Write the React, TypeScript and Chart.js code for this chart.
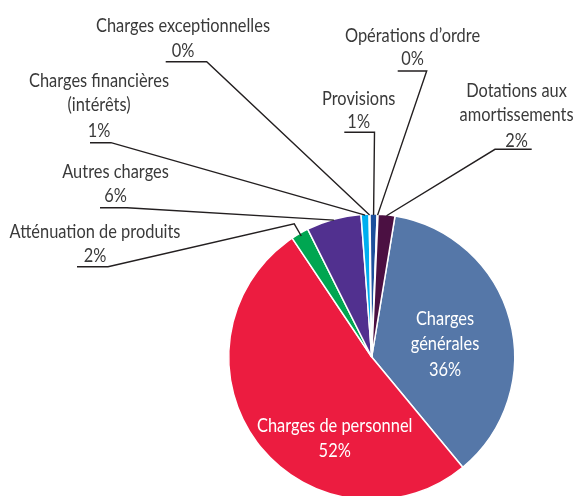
import React, { useEffect, useRef } from "react";
import { Chart, registerables } from "chart.js";

Chart.register(...registerables);

const categories = [
  "Charges\ngénérales",
  "Charges de personnel",
  "Atténuation de produits",
  "Autres charges",
  "Charges financières\n(intérêts)",
  "Charges exceptionnelles",
  "Provisions",
  "Opérations d\u2019ordre",
  "Dotations aux\namortissements",
];
const values = [36.4, 51.6, 2.0, 6.2, 0.9, 0.1, 0.8, 0.1, 1.9];
const colors = [
  "#5577a8",
  "#ec1c40",
  "#00a651",
  "#51308f",
  "#00aeef",
  "#2a2a6a",
  "#1c4f9c",
  "#3a1f4f",
  "#4b1042",
];

type Layout = {
  inside?: boolean;
  cx: number;
  baselines: number[];
  ux1?: number;
  ux2?: number;
  uy?: number;
  from?: "left" | "right";
  elbow?: number;
};

const layouts: Layout[] = [
  { inside: true, cx: 445, baselines: [325, 350, 375.5] },
  { inside: true, cx: 334.7, baselines: [431.7, 456.7] },
  { cx: 95, baselines: [238, 262], ux1: 77, ux2: 108, uy: 266.7, from: "right", elbow: 11 },
  { cx: 115.5, baselines: [177.5, 202], ux1: 100, ux2: 127, uy: 207.7, from: "right" },
  { cx: 99, baselines: [87, 110.5, 137], ux1: 90, ux2: 111, uy: 142.7, from: "right" },
  { cx: 183, baselines: [31.5, 57], ux1: 165.7, ux2: 206.7, uy: 61.7, from: "right" },
  { cx: 358.7, baselines: [105, 128], ux1: 344.3, ux2: 374.5, uy: 132.3, from: "right" },
  { cx: 412.5, baselines: [41.5, 65], ux1: 397.7, ux2: 426.7, uy: 71, from: "right" },
  { cx: 516.5, baselines: [96.5, 121, 146.5], ux1: 495, ux2: 531.7, uy: 149.3, from: "left" },
];

const FONT = '"Lato", "Open Sans", sans-serif';
const FONT_SIZE = 19.5;
const REF_TEXT = "Charges exceptionnelles";
const REF_WIDTH = 174;

const labelPlugin = {
  id: "pieLabels",
  afterDatasetsDraw(chart: any) {
    const ctx = chart.ctx as CanvasRenderingContext2D;
    const meta = chart.getDatasetMeta(0);
    const data = chart.data.datasets[0].data as number[];
    const total = data.reduce((a, b) => a + b, 0);
    ctx.save();
    ctx.font = `${FONT_SIZE}px ${FONT}`;
    ctx.textAlign = "center";
    ctx.textBaseline = "alphabetic";
    const sx = REF_WIDTH / ctx.measureText(REF_TEXT).width;
    meta.data.forEach((arc: any, i: number) => {
      const lay = layouts[i];
      if (!lay) return;
      const lines = String(chart.data.labels[i]).split("\n");
      lines.push(`${Math.round((data[i] / total) * 100)}%`);
      ctx.fillStyle = lay.inside ? "#ffffff" : "#3a3a3a";
      lines.forEach((ln, k) => {
        ctx.save();
        ctx.translate(lay.cx, lay.baselines[k]);
        ctx.scale(sx, 1);
        ctx.fillText(ln, 0, 0);
        ctx.restore();
      });
      if (lay.inside) return;
      const p = arc.getProps(["x", "y", "startAngle", "endAngle", "outerRadius"], true);
      const mid = (p.startAngle + p.endAngle) / 2;
      const r = p.outerRadius;
      ctx.strokeStyle = "#231f20";
      ctx.lineWidth = 1.4;
      ctx.beginPath();
      const s = lay.from === "left" ? lay.ux2! : lay.ux1!;
      const e = lay.from === "left" ? lay.ux1! : lay.ux2!;
      ctx.moveTo(s, lay.uy!);
      ctx.lineTo(e, lay.uy!);
      if (lay.elbow) {
        ctx.lineTo(p.x + Math.cos(mid) * (r + lay.elbow), p.y + Math.sin(mid) * (r + lay.elbow));
        ctx.lineTo(p.x + Math.cos(mid) * (r - 3), p.y + Math.sin(mid) * (r - 3));
      } else {
        ctx.lineTo(p.x + Math.cos(mid) * (r - 1), p.y + Math.sin(mid) * (r - 1));
      }
      ctx.stroke();
    });
    ctx.restore();
  },
};

export default function App() {
  const ref = useRef<HTMLCanvasElement | null>(null);
  useEffect(() => {
    if (!ref.current) return;
    const chart = new Chart(ref.current, {
      type: "pie",
      data: {
        labels: categories,
        datasets: [
          {
            data: values,
            backgroundColor: colors,
            borderColor: "#ffffff",
            borderWidth: 1.5,
          },
        ],
      },
      options: {
        animation: false,
        responsive: false,
        rotation: 9.4,
        radius: 143,
        layout: { padding: { left: 200, right: 33.6, top: 200, bottom: 6 } },
        plugins: {
          legend: { display: false },
          tooltip: { enabled: false },
        },
      },
      plugins: [labelPlugin],
    });
    return () => chart.destroy();
  }, []);
  return (
    <div
      style={{
        position: "fixed",
        left: 0,
        top: 0,
        width: 577,
        height: 496,
        overflow: "hidden",
        background: "#ffffff",
      }}
    >
      <canvas ref={ref} width={577} height={520} style={{ display: "block" }} />
    </div>
  );
}
